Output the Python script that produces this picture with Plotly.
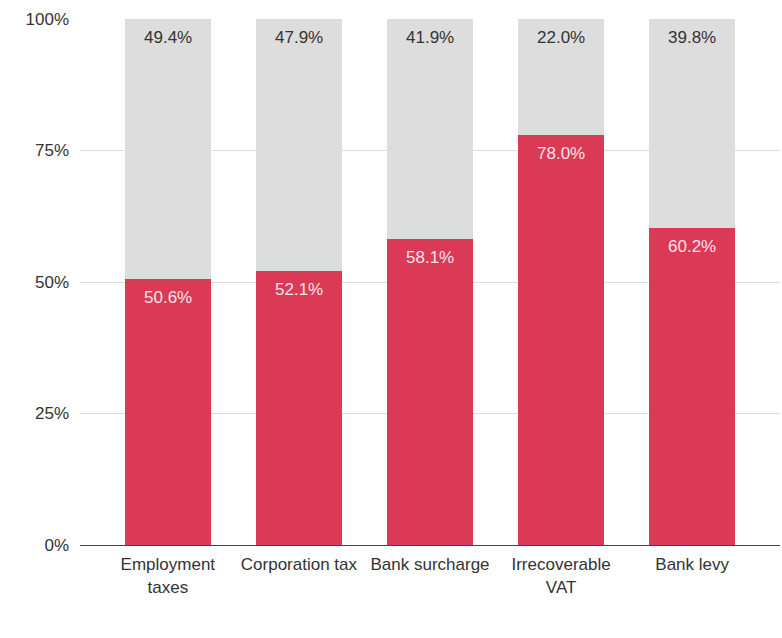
import plotly.graph_objects as go

categories = ["Employment<br>taxes", "Corporation tax", "Bank surcharge", "Irrecoverable<br>VAT", "Bank levy"]
share_a = [50.6, 52.1, 58.1, 78.0, 60.2]
share_b = [49.4, 47.9, 41.9, 22.0, 39.8]
y_ticks = [0, 25, 50, 75, 100]
y_tick_text = ["0%", "25%", "50%", "75%", "100%"]

FONT = "Arial, 'Liberation Sans', sans-serif"
SIZE = 17
x = list(range(len(categories)))

fig = go.Figure()
fig.add_trace(go.Bar(
    x=x, y=share_a, marker=dict(color="#DB3A57", line=dict(width=0)),
    hoverinfo="skip",
))
fig.add_trace(go.Bar(
    x=x, y=share_b, marker=dict(color="#DDDDDD", line=dict(width=0)),
    hoverinfo="skip",
))

# value labels placed just inside the top of each stacked segment
for xi, a, b in zip(x, share_a, share_b):
    fig.add_annotation(x=xi, y=a, text=f"{a:.1f}%", showarrow=False,
                       yanchor="top", yshift=-7,
                       font=dict(family=FONT, size=SIZE, color="#F7E3E7"))
    fig.add_annotation(x=xi, y=a + b, text=f"{b:.1f}%", showarrow=False,
                       yanchor="top", yshift=-7,
                       font=dict(family=FONT, size=SIZE, color="#333333"))

fig.update_layout(
    barmode="stack", bargap=0.345, showlegend=False,
    width=782, height=638,
    margin=dict(l=80, r=2, t=19, b=93),
    paper_bgcolor="white", plot_bgcolor="white",
    font=dict(family=FONT, size=SIZE, color="#333333"),
)
fig.update_xaxes(
    range=[-0.67, 4.67], tickmode="array", tickvals=x, ticktext=categories,
    showgrid=False, showline=True, linecolor="#444444", linewidth=1,
    ticks="", ticklabelstandoff=4,
    tickfont=dict(family=FONT, size=SIZE, color="#333333"),
    fixedrange=True,
)
fig.update_yaxes(
    range=[0, 100], tickmode="array", tickvals=y_ticks, ticktext=y_tick_text,
    showgrid=True, gridcolor="#DDDDDD", gridwidth=1, zeroline=False,
    ticks="", ticklabelstandoff=10,
    tickfont=dict(family=FONT, size=SIZE, color="#333333"),
    fixedrange=True,
)

fig.write_html("out.html")
